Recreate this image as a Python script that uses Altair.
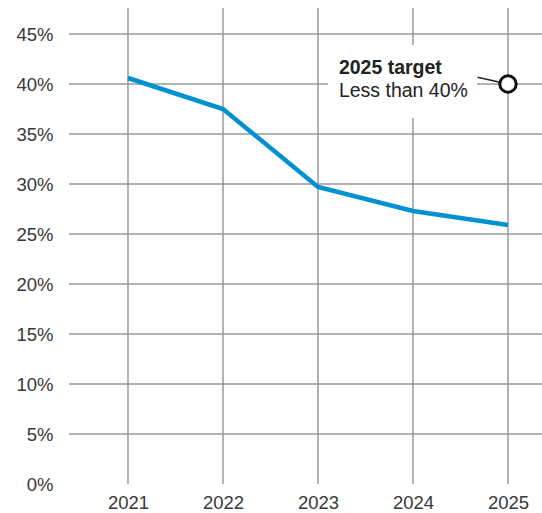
import altair as alt
import pandas as pd

# Share by year, in percent
years = [2021, 2022, 2023, 2024, 2025]
shares = [40.6, 37.5, 29.7, 27.3, 25.9]

# Axis ticks
y_ticks = [0, 5, 10, 15, 20, 25, 30, 35, 40, 45]
y_grid = [5, 10, 15, 20, 25, 30, 35, 40, 45]

# Target annotation
target_year = [2025]
target_value = [40]
note_lines = ["2025 target", "Less than 40%"]

FONT = "Liberation Sans"
GRID = "#9a9a9a"
INK = "#222222"

X_DOMAIN = [2020.379, 2025.358]
Y_DOMAIN = [0, 47.6]
xs = alt.Scale(domain=X_DOMAIN, nice=False, zero=False)
ys = alt.Scale(domain=Y_DOMAIN, nice=False, zero=False)

x_axis = alt.Axis(values=years, format="d", title=None, grid=False, domain=False,
                  ticks=False, labelPadding=9, labelFontSize=18.5, labelFont=FONT,
                  labelColor="#383838")
y_axis = alt.Axis(values=y_ticks, labelExpr="datum.value + '%'", title=None, grid=False,
                  domain=False, ticks=False, labelPadding=16, labelFontSize=18.5,
                  labelFont=FONT, labelColor="#383838")

series = pd.DataFrame({"year": years, "share": shares})
hgrid = pd.DataFrame({"share": y_grid})
vgrid = pd.DataFrame({"year": years})
target = pd.DataFrame({"year": target_year, "share": target_value})

# Note placement, in data units
note_x = 2023.22
note_box = pd.DataFrame({"x": [2023.105], "x2": [2024.675], "y": [36.6], "y2": [43.9]})
notes = pd.DataFrame({"year": [note_x, note_x], "share": [41.0, 38.7],
                      "label": note_lines, "weight": ["bold", "normal"]})
leader = pd.DataFrame({"x": [2024.68], "x2": [2024.95], "y": [40.67], "y2": [40.1]})

h_rules = alt.Chart(hgrid).mark_rule(color=GRID, strokeWidth=1.5).encode(
    y=alt.Y("share:Q", scale=ys, axis=y_axis)
)
v_rules = alt.Chart(vgrid).mark_rule(color=GRID, strokeWidth=1.5).encode(
    x=alt.X("year:Q", scale=xs, axis=x_axis)
)

box = alt.Chart(note_box).mark_rect(color="white").encode(
    x=alt.X("x:Q", scale=xs, axis=x_axis), x2="x2:Q",
    y=alt.Y("y:Q", scale=ys, axis=y_axis), y2="y2:Q",
)

line = alt.Chart(series).mark_line(color="#0091d0", strokeWidth=4.5).encode(
    x=alt.X("year:Q", scale=xs, axis=x_axis),
    y=alt.Y("share:Q", scale=ys, axis=y_axis),
)

lead = alt.Chart(leader).mark_rule(color=INK, strokeWidth=1.5).encode(
    x=alt.X("x:Q", scale=xs, axis=x_axis), x2="x2:Q",
    y=alt.Y("y:Q", scale=ys, axis=y_axis), y2="y2:Q",
)

dot = alt.Chart(target).mark_point(shape="circle", filled=True, fill="white",
                                   stroke="#111111", strokeWidth=3, size=270,
                                   opacity=1).encode(
    x=alt.X("year:Q", scale=xs, axis=x_axis),
    y=alt.Y("share:Q", scale=ys, axis=y_axis),
)

title_txt = alt.Chart(notes[notes.weight == "bold"]).mark_text(
    align="left", baseline="alphabetic", fontSize=19.5, fontWeight="bold",
    font=FONT, color=INK).encode(
    x=alt.X("year:Q", scale=xs, axis=x_axis),
    y=alt.Y("share:Q", scale=ys, axis=y_axis),
    text="label:N",
)
body_txt = alt.Chart(notes[notes.weight == "normal"]).mark_text(
    align="left", baseline="alphabetic", fontSize=19.5,
    font=FONT, color=INK).encode(
    x=alt.X("year:Q", scale=xs, axis=x_axis),
    y=alt.Y("share:Q", scale=ys, axis=y_axis),
    text="label:N",
)

chart = alt.layer(h_rules, v_rules, box, line, lead, dot, title_txt, body_txt).properties(
    width=473, height=476,
    autosize=alt.AutoSizeParams(type="none"),
    padding={"left": 69, "top": 8, "right": 0, "bottom": 29},
    background="white",
).configure_view(stroke=None)

chart.save("out.html", embed_options={"renderer": "svg", "actions": False})
